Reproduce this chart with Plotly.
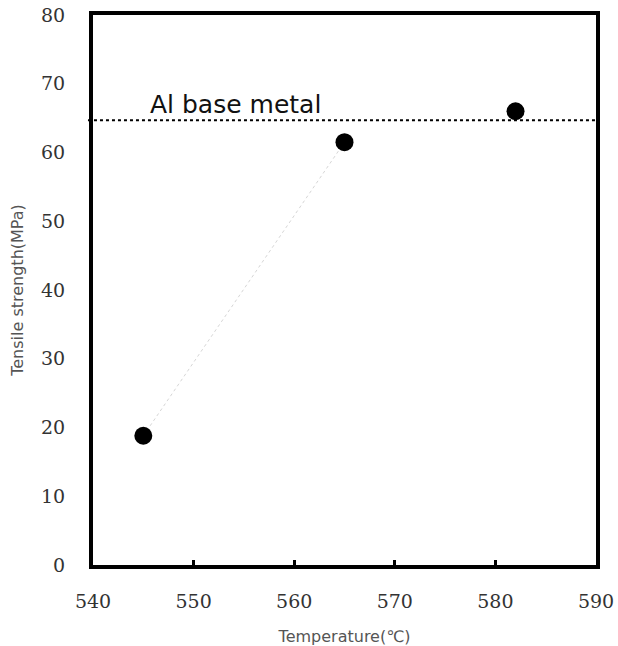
import plotly.graph_objects as go

temperature = [545, 565, 582]
tensile_strength = [18.8, 61.5, 66.0]
base_metal_strength = 64.7
x_ticks = [540, 550, 560, 570, 580, 590]
x_minor_ticks = [550, 560, 570, 580]
y_ticks = [0, 10, 20, 30, 40, 50, 60, 70, 80]

fig = go.Figure()

# faint dotted guide between the first two points
fig.add_trace(go.Scatter(
    x=temperature[:2], y=tensile_strength[:2], mode="lines",
    line=dict(color="#d6d6d6", width=1, dash="dot"), hoverinfo="skip", showlegend=False))

fig.add_trace(go.Scatter(
    x=temperature, y=tensile_strength, mode="markers",
    marker=dict(color="black", size=18), showlegend=False))

fig.add_shape(type="line", xref="paper", yref="y", x0=-0.01, x1=1,
              y0=base_metal_strength, y1=base_metal_strength,
              line=dict(color="black", width=2, dash="dot"))

fig.add_annotation(x=545.5, y=base_metal_strength, xref="x", yref="y",
                   text="Al base metal", showarrow=False,
                   xanchor="left", yanchor="bottom", yshift=-1,
                   font=dict(family="DejaVu Sans", size=25, color="#111"))

fig.update_xaxes(range=[540, 590], tickvals=x_ticks, ticktext=[str(v) for v in x_ticks],
                 showgrid=False, zeroline=False, showline=True, linewidth=4, linecolor="black",
                 mirror=True, ticks="", ticklabelstandoff=16, automargin=False,
                 minor=dict(tickvals=x_minor_ticks, ticks="inside", ticklen=5, tickwidth=3,
                            tickcolor="black", showgrid=False),
                 tickfont=dict(family="DejaVu Serif", size=19, color="#333"),
                 title=dict(text="Temperature(℃)", font=dict(family="DejaVu Sans", size=16, color="#555"),
                            standoff=24))
fig.update_yaxes(range=[0, 80], tickvals=y_ticks, ticktext=[str(v) for v in y_ticks],
                 showgrid=False, zeroline=False, showline=True, linewidth=4, linecolor="black",
                 mirror=True, ticks="", ticklabelstandoff=20, automargin=False,
                 tickfont=dict(family="DejaVu Serif", size=19, color="#333"),
                 title=dict(text="Tensile strength(MPa)", font=dict(family="DejaVu Sans", size=16, color="#555"),
                            standoff=14))

fig.update_layout(width=618, height=646, margin=dict(l=93, r=22, t=15, b=81),
                  plot_bgcolor="white", paper_bgcolor="white")

fig.write_html("out.html")
